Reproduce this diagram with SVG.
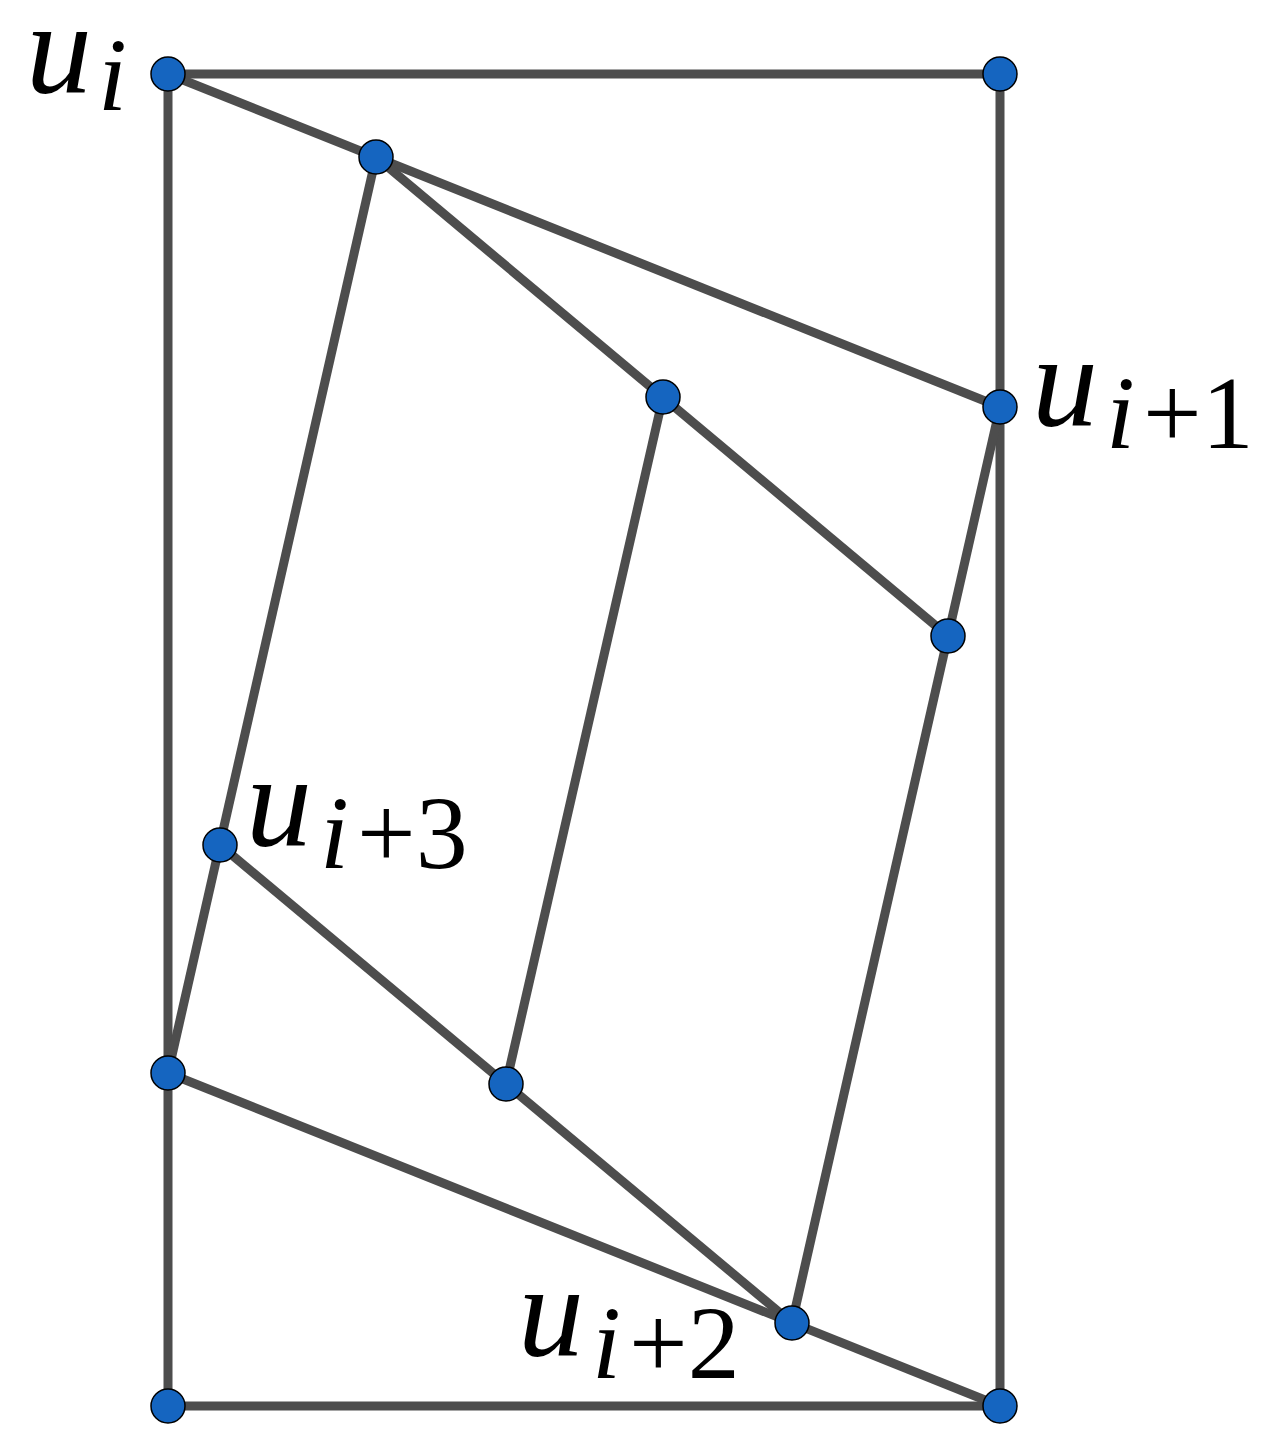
<svg xmlns="http://www.w3.org/2000/svg" width="1277" height="1449" viewBox="0 0 1277 1449">
<style>
.e{stroke:#4d4d4d;stroke-width:9;fill:none;stroke-linecap:butt}
.n{fill:#1565c0;stroke:#000;stroke-width:1.5}
.m{font-family:"Liberation Serif",serif;font-style:italic;font-size:132px;fill:#000}
.s{font-family:"Liberation Serif",serif;font-size:104px;fill:#000}
.si{font-style:italic}
</style>
<rect width="1277" height="1449" fill="#fff"/>
<g id="connectors">
<line class="e" x1="168" y1="74" x2="1000" y2="74"/>
<line class="e" x1="168" y1="74" x2="168" y2="1406"/>
<line class="e" x1="1000" y1="74" x2="1000" y2="1406"/>
<line class="e" x1="168" y1="1406" x2="1000" y2="1406"/>
<line class="e" x1="168" y1="74" x2="1000" y2="407"/>
<line class="e" x1="376" y1="157" x2="948" y2="636"/>
<line class="e" x1="376" y1="157" x2="168" y2="1073"/>
<line class="e" x1="663" y1="397" x2="506" y2="1084"/>
<line class="e" x1="1000" y1="407" x2="792" y2="1323"/>
<line class="e" x1="220" y1="845" x2="792" y2="1323"/>
<line class="e" x1="168" y1="1073" x2="1000" y2="1406"/>
</g>
<g id="n1"><circle class="n" cx="168" cy="74" r="17"/></g>
<g id="n2"><circle class="n" cx="1000" cy="74" r="17"/></g>
<g id="n3"><circle class="n" cx="376" cy="157" r="17"/></g>
<g id="n4"><circle class="n" cx="663" cy="397" r="17"/></g>
<g id="n5"><circle class="n" cx="1000" cy="407" r="17"/></g>
<g id="n6"><circle class="n" cx="948" cy="636" r="17"/></g>
<g id="n7"><circle class="n" cx="220" cy="845" r="17"/></g>
<g id="n8"><circle class="n" cx="168" cy="1073" r="17"/></g>
<g id="n9"><circle class="n" cx="506" cy="1084" r="17"/></g>
<g id="n10"><circle class="n" cx="792" cy="1323" r="17"/></g>
<g id="n11"><circle class="n" cx="168" cy="1406" r="17"/></g>
<g id="n12"><circle class="n" cx="1000" cy="1406" r="17"/></g>
<g id="labels">
<text><tspan class="m" x="26" y="92">u</tspan><tspan class="s si" x="98" y="110">i</tspan></text>
<text><tspan class="m" x="1032" y="425">u</tspan><tspan class="s si" x="1106" y="448">i</tspan><tspan class="s" x="1143" y="448">+1</tspan></text>
<text><tspan class="m" x="246" y="845">u</tspan><tspan class="s si" x="320" y="868">i</tspan><tspan class="s" x="357" y="868">+3</tspan></text>
<text><tspan class="m" x="518" y="1355">u</tspan><tspan class="s si" x="592" y="1378">i</tspan><tspan class="s" x="629" y="1378">+2</tspan></text>
</g>
</svg>
